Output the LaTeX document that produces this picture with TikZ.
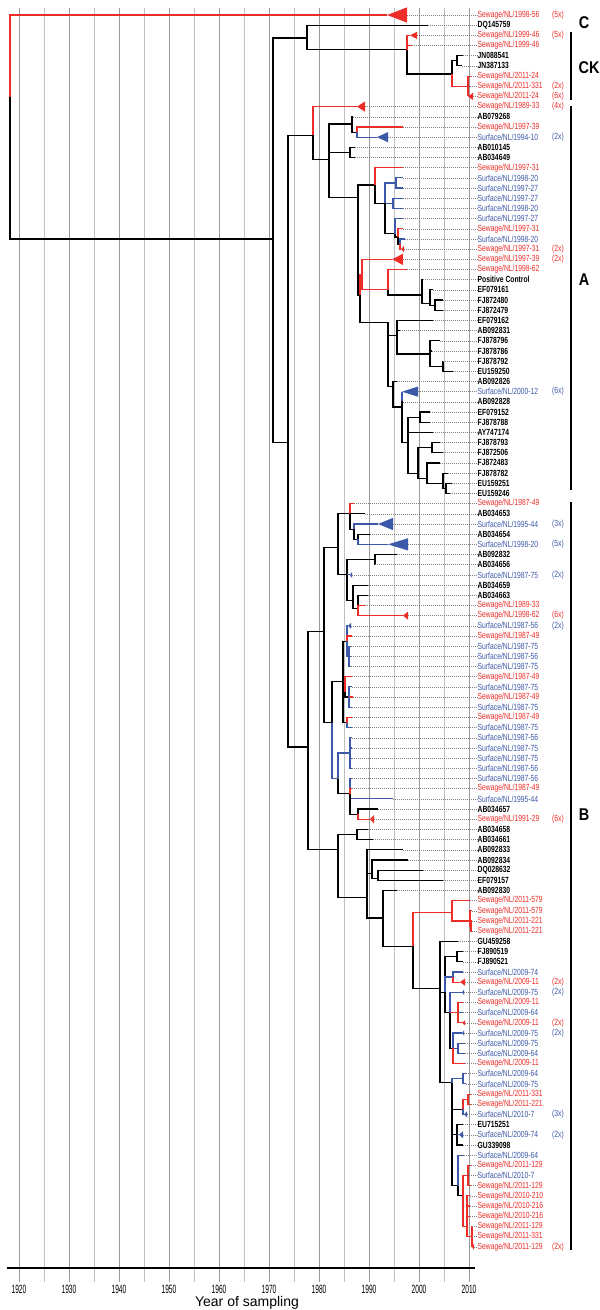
\documentclass[tikz,border=0pt]{standalone}
\usepackage{fontspec}
\newfontfamily\labfont{Liberation Sans}[FakeStretch=0.76]
\newfontfamily\tickfont{Liberation Sans}[FakeStretch=0.55]
\newfontfamily\axfont{Liberation Sans}
\newfontfamily\cladefont{Liberation Sans}[FakeStretch=0.85]
\definecolor{sewred}{RGB}{236,45,40}
\definecolor{srfblue}{RGB}{60,88,168}
\newcommand\lblsw[1]{Sewage/NL/#1}
\newcommand\lblsf[1]{Surface/NL/#1}
\newcommand\lblgb[1]{#1}
\tikzset{
  blk/.style={draw=black,line width=1.15pt},
  sew/.style={draw=sewred,line width=1.15pt},
  srf/.style={draw=srfblue,line width=1.15pt},
  gridten/.style={draw=gray!80,line width=0.6pt},
  gridfive/.style={draw=gray!50,line width=0.6pt},
  leader/.style={draw=gray,line width=0.5pt,dash pattern=on 0.7pt off 1.3pt},
  lab/.style={anchor=west,inner sep=0pt,font=\labfont\fontsize{8.9}{9}\selectfont},
  sw/.style={lab,text=sewred},
  sf/.style={lab,text=srfblue},
  gb/.style={lab,text=black,font=\labfont\bfseries\fontsize{8.9}{9}\selectfont},
  cladebar/.style={draw=black,line width=1.6pt},
  cladelab/.style={font=\cladefont\bfseries\fontsize{17}{18}\selectfont,inner sep=0pt}
}
\begin{document}
\begin{tikzpicture}[x=1pt,y=-1pt]
\useasboundingbox (0,0) rectangle (600,1310);

% time grid and axis
\foreach \k in {0,...,18}{
  \pgfmathtruncatemacro\yr{1920+5*\k}
  \ifodd\k \draw[gridfive] (19+25*\k,8) -- (19+25*\k,1282);
  \else \draw[gridten] (19+25*\k,8) -- (19+25*\k,1282);
    \node[font=\tickfont\fontsize{12}{12}\selectfont,inner sep=0pt] (yr\yr) at (19+25*\k,1289) {\yr};
  \fi
}
\draw[black,line width=1.3pt] (7,1268) -- (475,1268);
\node[font=\axfont\fontsize{14}{14}\selectfont,inner sep=0pt] (xlab) at (247,1303) {Year of sampling};

% clades
\draw[cladebar] (571,32) -- (571,100);
\draw[cladebar] (571,106) -- (571,490);
\draw[cladebar] (571,502) -- (571,1250);
\node[cladelab] (cladeC) at (584,23) {C};
\node[cladelab] (cladeCK) at (589,68) {CK};
\node[cladelab] (cladeA) at (584,280) {A};
\node[cladelab] (cladeB) at (584,815) {B};

\begin{scope}[y=-10.18pt,yshift=-4.82pt]
% internal nodes (x in years scale, y in rows)
\foreach \n/\x/\y in {root/10/9.06, n0/273/23.0, nC/307/3.26, nCK/407/4.4, nR46/407/3.5,
  nJ/452/6.8, nJN/457/5.5, n24/468/8.0, nAB/288/43.0, nA/313/12.8, nA1/329/15.2,
  nA2/352/11.7, nA2b/357/12.5, nA3/350/14.5, nA4/358/18.9, n97/375/17.7, nS0/385/19.5,
  nS1/396/17.5, nS3/393/19.5, nS4/395/22.5, nS5/398/22.8, nS6/400/23.5, nA5/360/28.5,
  nR/362/26.5, nP/388/28.0, nPC/422/28.5, nEF/430/29.3, nFJ/435/29.5, nBig/388/31.2,
  nE/397/32.5, nF/430/34.3, nF2/443/35.5, nG/393/37.5, nH/402/39.5, nJ2/408/43.0,
  nK/420/40.5, nL/418/46.0, nL1/432/43.5, nL2/427/46.5, nL3/443/47.0, nL4/446/47.5,
  nB/308/72.9, nBu/324/61.6, nB1/338/53.3, nB1a/350/50.0, nB1c/354/51.5, nB1d/358/52.5,
  nB1b/347/56.0, nB1f/375/54.5, nB1g/353/58.5, nB1h/358/59.3, nB2/332/70.5, nB2a/343/66.5,
  nG1/347/62.5, nG1b/349/64.0, nG2/345/67.5, nG2b/349/68.0, nG3/347/70.5, nB2b/338/76.0,
  nB2c/350/73.5, nB2d/350/77.5, nB3/358/79.5, nD/338/83.0, nD1/357/81.5, nD2/367/87.7,
  nD3/372/85.3, nD4/378/85.8, nD5/383/89.7, nD6/413/92.5, nR579/452/89.2, nR221/470/90.0,
  nR2b/471/90.5, nBB/440/96.6, nBC/445/97.0, nQ/457/93.5, nM1/453/95.5, nM2/450/99.0,
  nM3/458/99.0, nM4/453/102.5, nM5/458/102.5, nBD/452/105.9, nN1/463/105.5, nN2/463/108.5,
  nN3/468/107.5, nN4/457/111.0, nN5/458/116.0, nN6/463/117.0, nN7/468/115.0,
  nN8/467/120.0, nN9/472/121.0}
  \coordinate (\n) at (\x,\y);

% tips
\foreach \r/\x in {1/387, 2/428, 3/410, 4/412, 5/463, 6/462, 7/471, 8/470, 9/468, 10/357,
  11/353, 12/403, 13/377, 14/355, 15/355, 16/403, 17/403, 18/403, 19/403, 20/403, 21/403,
  22/403, 23/405, 24/401, 25/392, 26/407, 27/423, 28/433, 29/443, 30/443, 31/433, 32/400,
  33/440, 34/432, 35/443, 36/453, 37/397, 38/402, 39/403, 40/430, 41/430, 42/433, 43/440,
  44/443, 45/440, 46/448, 47/452, 48/450, 49/354, 50/365, 51/378, 52/370, 53/388, 54/397,
  55/375, 56/350, 57/368, 58/368, 59/365, 60/403, 61/348, 62/352, 63/351, 64/351, 65/351,
  66/352, 67/352, 68/353, 69/352, 70/352, 71/352, 72/352, 73/352, 74/352, 75/352, 76/352,
  77/352, 78/393, 79/378, 80/370, 81/368, 82/373, 83/403, 84/408, 85/423, 86/443, 87/397,
  88/470, 89/472, 90/472, 91/472, 92/458, 93/463, 94/463, 95/463, 96/460, 97/462, 98/463,
  99/463, 100/462, 101/462, 102/465, 103/465, 104/465, 105/466, 106/466, 107/471, 108/471,
  109/464, 110/463, 111/459, 112/463, 113/464, 114/471, 115/469, 116/471, 117/470,
  118/470, 119/470, 120/472, 121/472, 122/472}{
  \coordinate (t\r) at (\x,\r);
  \coordinate (e\r) at (\x,\r);
}

% collapsed clades
\foreach \r/\b/\h/\cl in {1/407/0.75/sewred, 3/417/0.35/sewred, 9/473/0.35/sewred,
  10/365/0.5/sewred, 13/388/0.5/srfblue, 24/404/0.3/sewred, 25/403/0.55/sewred,
  38/418/0.5/srfblue, 51/393/0.6/srfblue, 53/408/0.6/srfblue, 56/352/0.3/srfblue,
  60/408/0.4/sewred, 61/351/0.3/srfblue, 80/374/0.4/sewred, 96/465/0.35/sewred,
  97/464/0.25/srfblue, 100/465/0.25/sewred, 101/464/0.25/srfblue, 109/467/0.3/srfblue,
  111/463/0.35/srfblue, 122/474/0.3/sewred}{
  \fill[\cl] (t\r) -- (\b,\r-\h) -- (\b,\r+\h) -- cycle;
  \coordinate (e\r) at (\b,\r);
}

% branches
\foreach \p/\c/\s in {root/t1/sew, root/n0/blk, n0/nC/blk, n0/nAB/blk, nC/t2/blk,
  nC/nCK/blk, nCK/nR46/sew, nR46/t3/sew, nR46/t4/sew, nCK/nJ/blk, nJ/nJN/blk, nJN/t5/blk,
  nJN/t6/blk, nJ/n24/sew, n24/t7/sew, n24/t8/sew, n24/t9/sew,
  nAB/nA/blk, nAB/nB/blk, nA/t10/sew, nA/nA1/blk, nA1/nA2/blk, nA2/t11/blk, nA2/nA2b/blk,
  nA2b/t12/sew, nA2b/t13/srf, nA1/nA3/blk, nA3/t14/blk, nA3/t15/blk, nA1/nA4/blk,
  nA4/n97/blk, n97/t16/sew, n97/nS0/blk, nS0/nS1/srf, nS1/t17/srf, nS1/t18/srf,
  nS0/nS3/srf, nS3/t19/srf, nS3/t20/srf, nS0/nS4/blk, nS4/t21/srf, nS4/nS5/blk,
  nS5/t22/sew, nS5/nS6/blk, nS6/t23/srf, nS6/t24/sew, nA4/nA5/blk, nA5/nR/sew,
  nR/t25/sew, nR/nP/sew, nP/t26/sew, nP/nPC/blk, nPC/t27/blk, nPC/nEF/blk, nEF/t28/blk,
  nEF/nFJ/blk, nFJ/t29/blk, nFJ/t30/blk, nA5/nBig/blk, nBig/nE/blk, nE/t31/blk,
  nE/t32/blk, nE/nF/blk, nF/t33/blk, nF/t34/blk, nF/nF2/blk, nF2/t35/blk, nF2/t36/blk,
  nBig/nG/blk, nG/t37/blk, nG/nH/blk, nH/t38/srf, nH/t39/blk, nH/nJ2/blk, nJ2/nK/blk,
  nK/t40/blk, nK/t41/blk, nJ2/t42/blk, nJ2/nL/blk, nL/nL1/blk, nL1/t43/blk, nL1/t44/blk,
  nL/nL2/blk, nL2/t45/blk, nL2/nL3/blk, nL3/t46/blk, nL3/nL4/blk, nL4/t47/blk, nL4/t48/blk,
  nB/nBu/blk, nB/nD/blk, nBu/nB1/blk, nBu/nB2/blk, nB1/nB1a/blk, nB1a/t49/sew,
  nB1a/t50/blk, nB1a/nB1c/blk, nB1c/t51/srf, nB1c/nB1d/blk, nB1d/t52/blk, nB1d/t53/srf,
  nB1/nB1b/blk, nB1b/nB1f/blk, nB1f/t54/blk, nB1f/t55/blk, nB1b/t56/srf, nB1b/nB1g/blk,
  nB1g/t57/blk, nB1g/nB1h/blk, nB1h/t58/blk, nB1h/t59/sew, nB1h/t60/sew,
  nB2/nB2a/blk, nB2a/nG1/blk, nG1/t61/srf, nG1/t62/sew, nG1/nG1b/srf, nG1b/t63/srf,
  nG1b/t64/srf, nG1b/t65/srf, nB2a/nG2/blk, nG2/t66/sew, nG2/nG2b/blk, nG2b/t67/srf,
  nG2b/t68/sew, nG2b/t69/srf, nB2a/nG3/blk, nG3/t70/sew, nG3/t71/srf, nB2/nB2b/srf,
  nB2b/nB2c/srf, nB2c/t72/srf, nB2c/t73/srf, nB2c/t74/srf, nB2c/t75/srf, nB2b/nB2d/blk,
  nB2d/t76/srf, nB2d/t77/sew, nB2d/t78/srf, nB2d/nB3/blk, nB3/t79/blk, nB3/t80/sew,
  nD/nD1/blk, nD1/t81/blk, nD1/t82/blk, nD/nD2/blk, nD2/t83/blk, nD2/nD3/blk,
  nD3/t84/blk, nD3/nD4/blk, nD4/t85/blk, nD4/t86/blk, nD2/nD5/blk, nD5/t87/blk,
  nD5/nD6/blk, nD6/nR579/sew, nR579/t88/sew, nR579/nR221/sew, nR221/t89/sew,
  nR221/nR2b/sew, nR2b/t90/sew, nR2b/t91/sew, nD6/nBB/blk, nBB/t92/blk, nBB/nBC/blk,
  nBC/nQ/blk, nQ/t93/blk, nQ/t94/blk, nBC/nM1/srf, nM1/t95/srf, nM1/t96/sew,
  nBC/nM2/blk, nM2/t97/srf, nM2/nM3/sew, nM3/t98/sew, nM3/t99/srf, nM3/t100/sew,
  nM2/nM4/blk, nM4/t101/srf, nM4/nM5/srf, nM5/t102/srf, nM5/t103/srf, nM4/t104/sew,
  nBB/nBD/blk, nBD/nN1/srf, nN1/t105/srf, nN1/t106/srf, nBD/nN2/blk, nN2/nN3/sew,
  nN3/t107/sew, nN3/t108/sew, nN2/t109/srf, nBD/nN4/blk, nN4/t110/blk, nN4/t111/srf,
  nN4/t112/blk, nBD/nN5/blk, nN5/t113/srf, nN5/nN6/blk, nN6/nN7/sew, nN7/t114/sew,
  nN7/t115/srf, nN7/t116/sew, nN6/nN8/sew, nN8/t117/sew, nN8/t118/sew, nN8/t119/sew,
  nN8/nN9/sew, nN9/t120/sew, nN9/t121/sew, nN9/t122/sew}
  \draw[\s] (\p) |- (\c);

% taxon labels
\foreach \r/\kd/\sx/\nn in {1/sw/1998-56/5, 2/gb/DQ145759/0, 3/sw/1999-46/5,
  4/sw/1999-46/0, 5/gb/JN088541/0, 6/gb/JN387133/0, 7/sw/2011-24/0, 8/sw/2011-331/2,
  9/sw/2011-24/6, 10/sw/1989-33/4, 11/gb/AB079268/0, 12/sw/1997-39/0, 13/sf/1994-10/2,
  14/gb/AB010145/0, 15/gb/AB034649/0, 16/sw/1997-31/0, 17/sf/1998-20/0, 18/sf/1997-27/0,
  19/sf/1997-27/0, 20/sf/1998-20/0, 21/sf/1997-27/0, 22/sw/1997-31/0, 23/sf/1998-20/0,
  24/sw/1997-31/2, 25/sw/1997-39/2, 26/sw/1998-62/0, 27/gb/Positive Control/0,
  28/gb/EF079161/0, 29/gb/FJ872480/0, 30/gb/FJ872479/0, 31/gb/EF079162/0,
  32/gb/AB092831/0, 33/gb/FJ878796/0, 34/gb/FJ878786/0, 35/gb/FJ878792/0,
  36/gb/EU159250/0, 37/gb/AB092826/0, 38/sf/2000-12/6, 39/gb/AB092828/0,
  40/gb/EF079152/0, 41/gb/FJ878788/0, 42/gb/AY747174/0, 43/gb/FJ878793/0,
  44/gb/FJ872506/0, 45/gb/FJ872483/0, 46/gb/FJ878782/0, 47/gb/EU159251/0,
  48/gb/EU159246/0, 49/sw/1987-49/0, 50/gb/AB034653/0, 51/sf/1995-44/3,
  52/gb/AB034654/0, 53/sf/1998-20/5, 54/gb/AB092832/0, 55/gb/AB034656/0,
  56/sf/1987-75/2, 57/gb/AB034659/0, 58/gb/AB034663/0, 59/sw/1989-33/0, 60/sw/1998-62/6,
  61/sf/1987-56/2, 62/sw/1987-49/0, 63/sf/1987-75/0, 64/sf/1987-56/0, 65/sf/1987-75/0,
  66/sw/1987-49/0, 67/sf/1987-75/0, 68/sw/1987-49/0, 69/sf/1987-75/0, 70/sw/1987-49/0,
  71/sf/1987-75/0, 72/sf/1987-56/0, 73/sf/1987-75/0, 74/sf/1987-75/0, 75/sf/1987-56/0,
  76/sf/1987-56/0, 77/sw/1987-49/0, 78/sf/1995-44/0, 79/gb/AB034657/0, 80/sw/1991-29/6,
  81/gb/AB034658/0, 82/gb/AB034661/0, 83/gb/AB092833/0, 84/gb/AB092834/0,
  85/gb/DQ028632/0, 86/gb/EF079157/0, 87/gb/AB092830/0, 88/sw/2011-579/0,
  89/sw/2011-579/0, 90/sw/2011-221/0, 91/sw/2011-221/0, 92/gb/GU459258/0,
  93/gb/FJ890519/0, 94/gb/FJ890521/0, 95/sf/2009-74/0, 96/sw/2009-11/2, 97/sf/2009-75/2,
  98/sw/2009-11/0, 99/sf/2009-64/0, 100/sw/2009-11/2, 101/sf/2009-75/2, 102/sf/2009-75/0,
  103/sf/2009-64/0, 104/sw/2009-11/0, 105/sf/2009-64/0, 106/sf/2009-75/0,
  107/sw/2011-331/0, 108/sw/2011-221/0, 109/sf/2010-7/3, 110/gb/EU715251/0,
  111/sf/2009-74/2, 112/gb/GU339098/0, 113/sf/2009-64/0, 114/sw/2011-129/0,
  115/sf/2010-7/0, 116/sw/2011-129/0, 117/sw/2010-210/0, 118/sw/2010-216/0,
  119/sw/2010-216/0, 120/sw/2011-129/0, 121/sw/2011-331/0, 122/sw/2011-129/2}{
  \node[\kd] (l\r) at (477.5,\r) {\csname lbl\kd\endcsname{\sx}};
  \ifnum\nn>0 \node[\kd] (c\r) at (552,\r) {(\nn x)};\fi
  \draw[leader] (e\r) -- (l\r.west);
}
\end{scope}
\end{tikzpicture}
\end{document}
